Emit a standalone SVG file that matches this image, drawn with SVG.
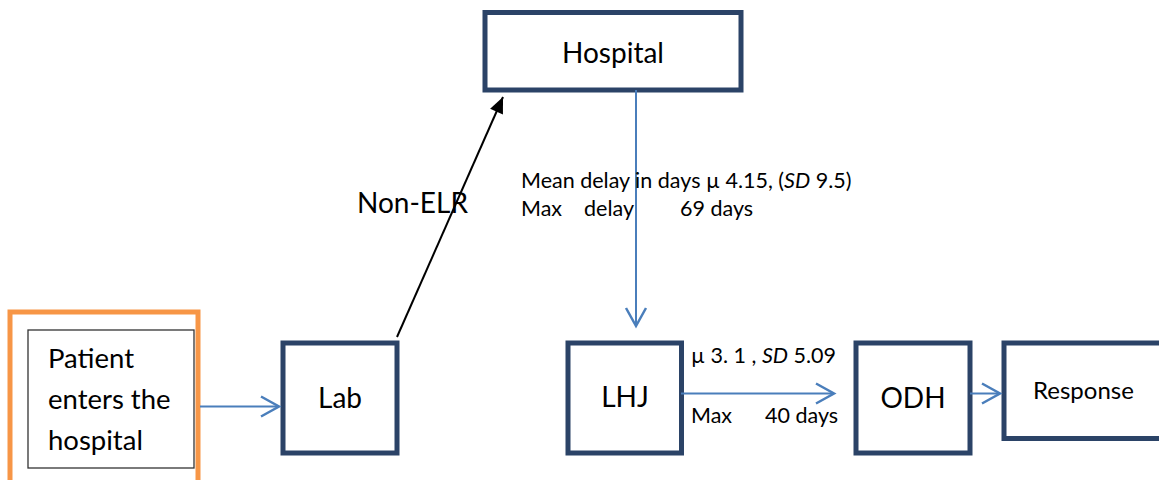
<svg xmlns="http://www.w3.org/2000/svg" width="1159" height="480" viewBox="0 0 1159 480">
<style>
.box{fill:#fff;stroke:#2b4367;stroke-width:5}
.big{font-family:Lato,"Liberation Sans",sans-serif;font-size:28px;fill:#000}
.small{font-family:Lato,"Liberation Sans",sans-serif;font-size:21.5px;fill:#000}
.blue{stroke:#4a7ebb;stroke-width:2;fill:none}
</style>
<defs>
<marker id="chev" markerUnits="userSpaceOnUse" markerWidth="24" markerHeight="24" viewBox="-20 -12 24 24" refX="0" refY="0" orient="auto">
<path d="M-18,-10 L0,0 L-18,10" fill="none" stroke="#4a7ebb" stroke-width="2.5"/>
</marker>
<marker id="tri" markerUnits="userSpaceOnUse" markerWidth="20" markerHeight="20" viewBox="-18 -10 20 20" refX="0" refY="0" orient="auto">
<path d="M-16,-7 L0,0 L-16,7 Z" fill="#000"/>
</marker>
</defs>
<g id="patient">
<rect x="10" y="312" width="188" height="180" fill="none" stroke="#f79646" stroke-width="5"/>
<rect x="28" y="330" width="166" height="138" fill="#fff" stroke="#333" stroke-width="1.3"/>
<text class="big" x="48" y="368" style="font-size:27.5px">Patient</text>
<text class="big" x="48" y="409" style="font-size:27.5px">enters the</text>
<text class="big" x="48" y="450" style="font-size:27.5px">hospital</text>
</g>
<g id="lab">
<rect class="box" x="283" y="343" width="114" height="110"/>
<text class="big" x="340" y="408" text-anchor="middle">Lab</text>
</g>
<g id="hospital">
<rect class="box" x="485" y="12.5" width="256" height="77.5"/>
<text class="big" x="613" y="63" text-anchor="middle">Hospital</text>
</g>
<g id="lhj">
<rect class="box" x="568" y="343" width="113.5" height="110"/>
<text class="big" x="625" y="407" text-anchor="middle">LHJ</text>
</g>
<g id="odh">
<rect class="box" x="856" y="343" width="114" height="110"/>
<text class="big" x="913" y="408" text-anchor="middle">ODH</text>
</g>
<g id="response">
<rect class="box" x="1004" y="343" width="170" height="95.5"/>
<text class="small" x="1033" y="399" style="font-size:24px">Response</text>
</g>
<g id="connectors">
<line class="blue" x1="200" y1="406.5" x2="279" y2="406.5" marker-end="url(#chev)"/>
<line x1="397" y1="337" x2="503" y2="97" stroke="#000" stroke-width="2" marker-end="url(#tri)"/>
<line class="blue" x1="636" y1="90" x2="636" y2="326" marker-end="url(#chev)"/>
<line class="blue" x1="681" y1="393.5" x2="834" y2="393.5" marker-end="url(#chev)"/>
<line class="blue" x1="970" y1="393.5" x2="1000" y2="393.5" marker-end="url(#chev)"/>
</g>
<g id="labels">
<text class="big" x="357" y="213">Non-ELR</text>
<text class="small" x="521" y="188">Mean delay in days µ 4.15, (<tspan font-style="italic">SD</tspan> 9.5)</text>
<text class="small" y="216"><tspan x="521">Max</tspan><tspan x="584">delay</tspan><tspan x="680">69 days</tspan></text>
<text class="small" x="691" y="363">µ 3. 1 , <tspan font-style="italic">SD</tspan> 5.09</text>
<text class="small" y="423"><tspan x="691">Max</tspan><tspan x="765">40 days</tspan></text>
</g>
</svg>
